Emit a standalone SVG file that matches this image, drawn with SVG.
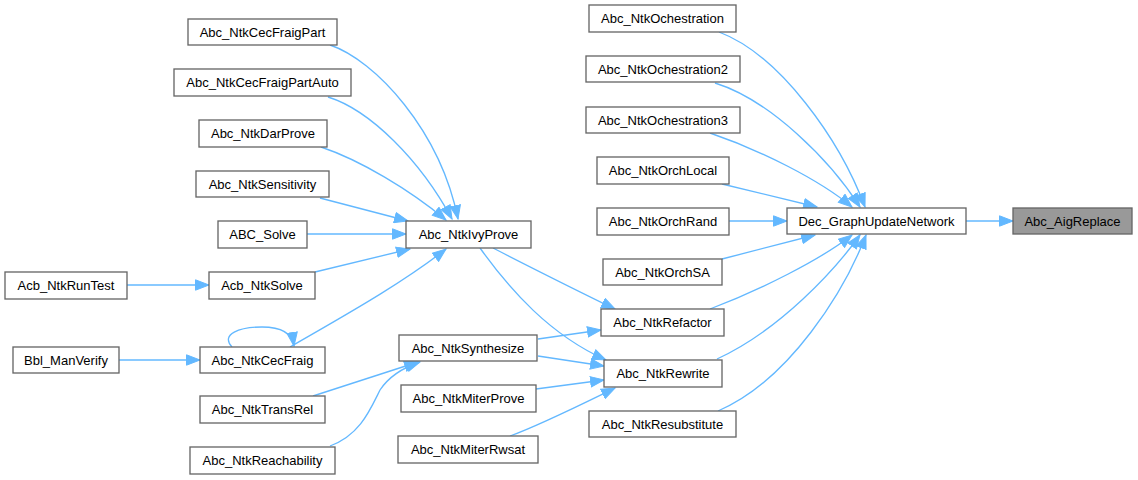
<svg xmlns="http://www.w3.org/2000/svg" width="1138" height="480" viewBox="0 0 1138 480">
<style>
.n rect{fill:#fff;stroke:#666;stroke-width:1.33}
.n text{font-family:"Liberation Sans",Arial,sans-serif;font-size:13px;fill:#000;text-anchor:middle}
.g rect{fill:#999;stroke:#666;stroke-width:1.33}
.e path{fill:none;stroke:#63b8ff;stroke-width:1.33;marker-end:url(#ah)}
</style>
<defs>
<marker id="ah" markerUnits="userSpaceOnUse" markerWidth="16" markerHeight="12" viewBox="0 0 16 12" refX="14" refY="6" orient="auto">
<path d="M0.5,0.8 L14,6 L0.5,11.2 Z" fill="#63b8ff" stroke="#63b8ff" stroke-width="1"/>
</marker>
</defs>
<rect width="1138" height="480" fill="#fff"/>
<g class="e" id="edges">
<path d="M330,45 C375,60 440,130 458,219"/>
<path d="M328,97 C370,110 420,160 452,219"/>
<path d="M321,147 C360,160 410,190 446,220"/>
<path d="M320,198 L408,221"/>
<path d="M307,234 L406,234"/>
<path d="M315,272 L410,249"/>
<path d="M127,285 L209,285"/>
<path d="M290,347 C340,318 400,285 446,249"/>
<path d="M232,347 C220,334 240,327 262,327 C280,327 292,332 294,346"/>
<path d="M119,360 L200,360"/>
<path d="M313,396 L418,362"/>
<path d="M330,446 C360,435 370,410 380,390 C390,375 405,367 420,362"/>
<path d="M493,248 C540,272 580,292 615,309"/>
<path d="M480,248 C510,290 550,335 606,360"/>
<path d="M538,339 L601,330"/>
<path d="M538,356 L604,366"/>
<path d="M536,389 L604,380"/>
<path d="M510,436 C540,425 570,410 615,388"/>
<path d="M719,32 C780,55 840,140 865,207"/>
<path d="M715,83 C770,100 830,160 860,207"/>
<path d="M710,133 C760,150 820,180 852,207"/>
<path d="M722,184 L817,207"/>
<path d="M729,221 L787,221"/>
<path d="M722,259 L815,235"/>
<path d="M710,309 C760,290 820,260 852,235"/>
<path d="M717,359 C780,330 835,270 860,235"/>
<path d="M718,411 C790,380 845,290 866,235"/>
<path d="M966,221 L1013,221"/>
</g>
<g class="n" id="Abc_NtkCecFraigPart"><rect x="188" y="19" width="149" height="26"/><text x="262.5" y="36.5">Abc_NtkCecFraigPart</text></g>
<g class="n" id="Abc_NtkCecFraigPartAuto"><rect x="174" y="69" width="177" height="27"/><text x="262.5" y="87">Abc_NtkCecFraigPartAuto</text></g>
<g class="n" id="Abc_NtkDarProve"><rect x="199" y="120" width="128" height="27"/><text x="263" y="138">Abc_NtkDarProve</text></g>
<g class="n" id="Abc_NtkSensitivity"><rect x="196" y="171" width="133" height="26"/><text x="262.5" y="188.5">Abc_NtkSensitivity</text></g>
<g class="n" id="ABC_Solve"><rect x="218" y="221" width="89" height="27"/><text x="262.5" y="239">ABC_Solve</text></g>
<g class="n" id="Acb_NtkRunTest"><rect x="5" y="272" width="122" height="27"/><text x="66" y="290">Acb_NtkRunTest</text></g>
<g class="n" id="Acb_NtkSolve"><rect x="209" y="272" width="106" height="27"/><text x="262" y="290">Acb_NtkSolve</text></g>
<g class="n" id="Bbl_ManVerify"><rect x="13" y="347" width="106" height="26"/><text x="66" y="364.5">Bbl_ManVerify</text></g>
<g class="n" id="Abc_NtkCecFraig"><rect x="200" y="347" width="125" height="26"/><text x="262.5" y="364.5">Abc_NtkCecFraig</text></g>
<g class="n" id="Abc_NtkTransRel"><rect x="200" y="396" width="125" height="27"/><text x="262.5" y="414">Abc_NtkTransRel</text></g>
<g class="n" id="Abc_NtkReachability"><rect x="190" y="447" width="145" height="27"/><text x="262.5" y="465">Abc_NtkReachability</text></g>
<g class="n" id="Abc_NtkIvyProve"><rect x="406" y="221" width="125" height="27"/><text x="468.5" y="239">Abc_NtkIvyProve</text></g>
<g class="n" id="Abc_NtkSynthesize"><rect x="399" y="335" width="138" height="26"/><text x="468" y="352.5">Abc_NtkSynthesize</text></g>
<g class="n" id="Abc_NtkMiterProve"><rect x="401" y="385" width="135" height="27"/><text x="468.5" y="403">Abc_NtkMiterProve</text></g>
<g class="n" id="Abc_NtkMiterRwsat"><rect x="398" y="436" width="140" height="27"/><text x="468" y="454">Abc_NtkMiterRwsat</text></g>
<g class="n" id="Abc_NtkOchestration"><rect x="589" y="5" width="147" height="27"/><text x="662.5" y="23">Abc_NtkOchestration</text></g>
<g class="n" id="Abc_NtkOchestration2"><rect x="586" y="56" width="154" height="26"/><text x="663" y="73.5">Abc_NtkOchestration2</text></g>
<g class="n" id="Abc_NtkOchestration3"><rect x="586" y="107" width="154" height="26"/><text x="663" y="124.5">Abc_NtkOchestration3</text></g>
<g class="n" id="Abc_NtkOrchLocal"><rect x="597" y="157" width="132" height="27"/><text x="663" y="175">Abc_NtkOrchLocal</text></g>
<g class="n" id="Abc_NtkOrchRand"><rect x="597" y="208" width="132" height="27"/><text x="663" y="226">Abc_NtkOrchRand</text></g>
<g class="n" id="Abc_NtkOrchSA"><rect x="603" y="259" width="119" height="26"/><text x="662.5" y="276.5">Abc_NtkOrchSA</text></g>
<g class="n" id="Abc_NtkRefactor"><rect x="601" y="309" width="123" height="27"/><text x="662.5" y="327">Abc_NtkRefactor</text></g>
<g class="n" id="Abc_NtkRewrite"><rect x="604" y="360" width="118" height="27"/><text x="663" y="378">Abc_NtkRewrite</text></g>
<g class="n" id="Abc_NtkResubstitute"><rect x="589" y="411" width="147" height="26"/><text x="662.5" y="428.5">Abc_NtkResubstitute</text></g>
<g class="n" id="Dec_GraphUpdateNetwork"><rect x="787" y="208" width="179" height="26"/><text x="876.5" y="225.5">Dec_GraphUpdateNetwork</text></g>
<g class="n g" id="Abc_AigReplace"><rect x="1013" y="208" width="119" height="26"/><text x="1072.5" y="225.5">Abc_AigReplace</text></g>
</svg>
